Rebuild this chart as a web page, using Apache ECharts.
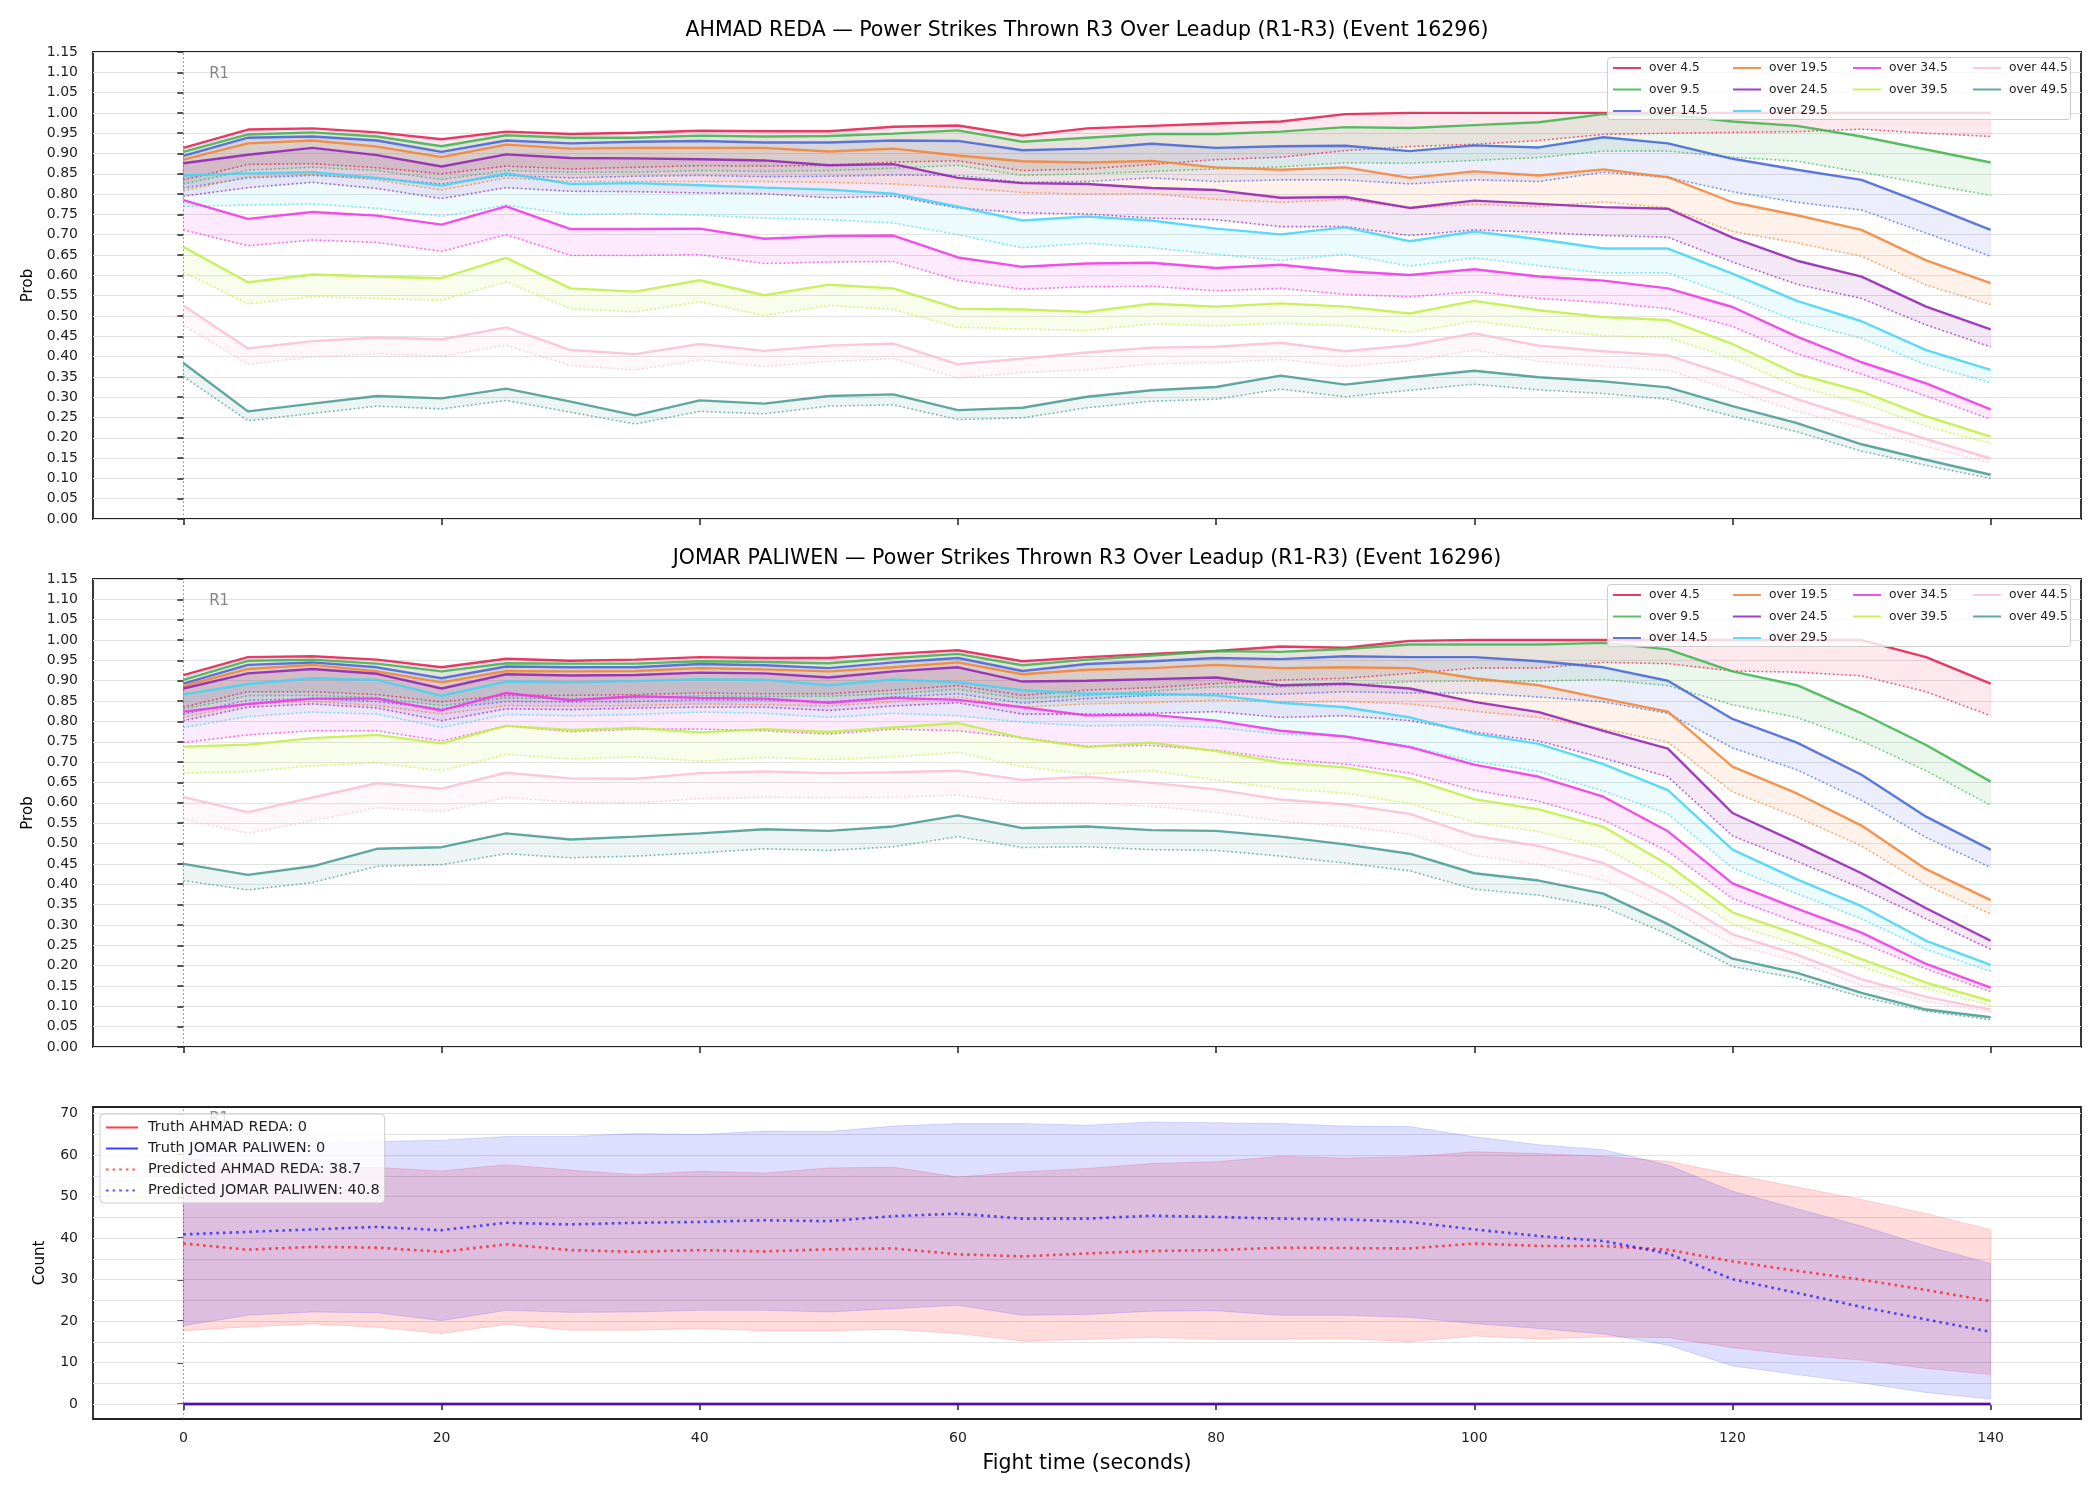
<!DOCTYPE html>
<html>
<head>
<meta charset="utf-8">
<title>Power Strikes Thrown R3 Over Leadup</title>
<script src="https://cdn.jsdelivr.net/npm/echarts@6/dist/echarts.min.js"></script>
<style>
  html, body { margin: 0; padding: 0; background: #ffffff; }
  #main { width: 2100px; height: 1500px; }
</style>
</head>
<body>
<div id="main"></div>
<script>
// x axis: fight time, one sample every 5 s
var fightTime = [0,5,10,15,20,25,30,35,40,45,50,55,60,65,70,75,80,85,90,95,100,105,110,115,120,125,130,135,140];
var xTicks = [0,20,40,60,80,100,120,140];
var countTicks = [0,10,20,30,40,50,60,70];
var countGrid = [0,5,10,15,20,25,30,35,40,45,50,55,60,65,70];

var thresholdNames = ['over 4.5','over 9.5','over 14.5','over 19.5','over 24.5','over 29.5','over 34.5','over 39.5','over 44.5','over 49.5'];
var thresholdColors = ['#e6194b','#3cb44b','#4363d8','#f58231','#911eb4','#42d4f4','#f032e6','#bfef45','#fabed4','#469990'];

// AHMAD REDA (solid line = upper, dotted = lower)
var reda45   = [0.914,0.959,0.962,0.952,0.935,0.954,0.948,0.951,0.956,0.955,0.955,0.966,0.969,0.944,0.962,0.968,0.974,0.979,0.997,1.0,1.0,1.0,1.0,1.0,1.0,1.0,1.0,1.0,1.0];
var reda45Lo = [0.835,0.873,0.875,0.865,0.850,0.869,0.862,0.866,0.870,0.869,0.871,0.879,0.882,0.858,0.862,0.873,0.885,0.891,0.907,0.917,0.923,0.932,0.947,0.950,0.952,0.954,0.960,0.950,0.942];
var reda95   = [0.904,0.947,0.952,0.942,0.918,0.945,0.939,0.939,0.944,0.942,0.943,0.949,0.957,0.929,0.939,0.948,0.948,0.954,0.965,0.963,0.970,0.977,0.997,0.996,0.979,0.968,0.942,0.910,0.878];
var reda95Lo = [0.825,0.859,0.866,0.858,0.836,0.858,0.854,0.854,0.858,0.856,0.858,0.864,0.871,0.846,0.850,0.856,0.862,0.867,0.877,0.876,0.883,0.890,0.906,0.906,0.891,0.881,0.854,0.825,0.797];
var reda145   = [0.894,0.939,0.942,0.932,0.904,0.932,0.925,0.929,0.931,0.927,0.927,0.932,0.931,0.908,0.912,0.924,0.914,0.918,0.919,0.906,0.920,0.915,0.940,0.925,0.887,0.860,0.835,0.775,0.712];
var reda145Lo = [0.815,0.840,0.846,0.839,0.825,0.846,0.840,0.844,0.846,0.843,0.844,0.847,0.846,0.829,0.831,0.840,0.831,0.835,0.835,0.825,0.835,0.831,0.854,0.841,0.806,0.780,0.761,0.704,0.647];
var reda195   = [0.885,0.925,0.932,0.917,0.891,0.922,0.912,0.914,0.914,0.914,0.905,0.912,0.895,0.881,0.878,0.882,0.866,0.860,0.866,0.840,0.856,0.846,0.861,0.842,0.780,0.748,0.712,0.637,0.581];
var reda195Lo = [0.808,0.843,0.848,0.835,0.810,0.840,0.831,0.831,0.831,0.831,0.829,0.825,0.816,0.804,0.800,0.801,0.787,0.780,0.787,0.765,0.775,0.769,0.781,0.766,0.708,0.680,0.647,0.576,0.528];
var reda245   = [0.876,0.897,0.914,0.896,0.868,0.898,0.889,0.888,0.886,0.883,0.871,0.874,0.840,0.827,0.825,0.815,0.810,0.791,0.793,0.766,0.784,0.776,0.768,0.764,0.693,0.636,0.597,0.523,0.467];
var reda245Lo = [0.795,0.816,0.829,0.814,0.789,0.816,0.807,0.806,0.803,0.801,0.791,0.795,0.766,0.754,0.751,0.741,0.737,0.720,0.720,0.698,0.712,0.706,0.698,0.694,0.633,0.578,0.543,0.478,0.424];
var reda295   = [0.846,0.851,0.854,0.840,0.821,0.851,0.825,0.827,0.822,0.816,0.811,0.801,0.769,0.735,0.745,0.735,0.715,0.701,0.718,0.684,0.708,0.689,0.666,0.666,0.604,0.537,0.487,0.416,0.367];
var reda295Lo = [0.770,0.773,0.776,0.765,0.745,0.773,0.750,0.752,0.748,0.741,0.737,0.729,0.700,0.668,0.679,0.668,0.652,0.637,0.652,0.623,0.643,0.624,0.606,0.606,0.549,0.487,0.445,0.380,0.336];
var reda345   = [0.785,0.739,0.756,0.747,0.725,0.770,0.714,0.714,0.715,0.690,0.697,0.698,0.644,0.621,0.629,0.631,0.618,0.626,0.610,0.601,0.615,0.597,0.587,0.568,0.522,0.449,0.386,0.334,0.270];
var reda345Lo = [0.712,0.673,0.687,0.681,0.659,0.700,0.649,0.649,0.651,0.629,0.633,0.634,0.588,0.566,0.572,0.573,0.562,0.568,0.553,0.547,0.560,0.543,0.533,0.518,0.474,0.407,0.357,0.303,0.246];
var reda395   = [0.670,0.583,0.602,0.597,0.593,0.643,0.568,0.560,0.588,0.551,0.577,0.568,0.518,0.516,0.510,0.530,0.523,0.531,0.523,0.506,0.537,0.514,0.497,0.490,0.431,0.357,0.314,0.253,0.203];
var reda395Lo = [0.608,0.530,0.548,0.543,0.539,0.584,0.518,0.510,0.535,0.501,0.526,0.516,0.472,0.468,0.464,0.481,0.476,0.482,0.476,0.460,0.487,0.468,0.451,0.447,0.395,0.326,0.286,0.228,0.186];
var reda445   = [0.526,0.420,0.438,0.447,0.442,0.472,0.416,0.406,0.431,0.414,0.427,0.432,0.381,0.395,0.410,0.422,0.424,0.434,0.413,0.428,0.457,0.427,0.413,0.403,0.351,0.295,0.245,0.197,0.149];
var reda445Lo = [0.478,0.381,0.399,0.407,0.401,0.428,0.378,0.367,0.392,0.376,0.388,0.395,0.347,0.361,0.367,0.382,0.385,0.393,0.376,0.389,0.416,0.388,0.376,0.366,0.317,0.265,0.224,0.179,0.138];
var reda495   = [0.384,0.265,0.284,0.303,0.297,0.321,0.289,0.255,0.292,0.284,0.303,0.307,0.268,0.274,0.301,0.317,0.325,0.353,0.331,0.349,0.365,0.349,0.339,0.324,0.278,0.236,0.184,0.146,0.109];
var reda495Lo = [0.351,0.242,0.260,0.278,0.271,0.292,0.263,0.234,0.265,0.259,0.278,0.281,0.245,0.249,0.274,0.290,0.295,0.320,0.301,0.317,0.332,0.318,0.309,0.295,0.253,0.215,0.167,0.132,0.100];

// JOMAR PALIWEN
var jomar45   = [0.914,0.958,0.960,0.952,0.933,0.954,0.949,0.952,0.958,0.956,0.956,0.966,0.975,0.948,0.958,0.966,0.973,0.984,0.981,0.998,1.0,1.0,1.0,1.0,1.0,1.0,1.0,0.958,0.893];
var jomar45Lo = [0.835,0.873,0.873,0.866,0.848,0.864,0.864,0.866,0.870,0.868,0.868,0.877,0.888,0.864,0.877,0.883,0.893,0.902,0.906,0.918,0.931,0.931,0.945,0.942,0.924,0.921,0.912,0.873,0.814];
var jomar95   = [0.902,0.949,0.952,0.942,0.923,0.943,0.942,0.942,0.948,0.946,0.943,0.956,0.966,0.938,0.952,0.962,0.973,0.971,0.978,0.989,0.989,0.989,0.993,0.977,0.923,0.889,0.820,0.742,0.652];
var jomar95Lo = [0.830,0.863,0.864,0.858,0.839,0.858,0.856,0.858,0.863,0.861,0.862,0.868,0.879,0.856,0.864,0.874,0.885,0.885,0.889,0.898,0.899,0.899,0.903,0.888,0.841,0.810,0.752,0.679,0.594];
var jomar145   = [0.893,0.939,0.945,0.933,0.906,0.935,0.933,0.933,0.941,0.938,0.931,0.945,0.956,0.924,0.941,0.948,0.956,0.953,0.960,0.958,0.958,0.948,0.933,0.900,0.806,0.748,0.669,0.566,0.485];
var jomar145Lo = [0.818,0.852,0.856,0.849,0.831,0.849,0.848,0.849,0.853,0.852,0.848,0.860,0.868,0.845,0.856,0.864,0.868,0.867,0.873,0.870,0.870,0.860,0.848,0.820,0.735,0.681,0.606,0.515,0.441];
var jomar195   = [0.887,0.929,0.939,0.923,0.896,0.924,0.923,0.924,0.931,0.928,0.923,0.933,0.945,0.916,0.927,0.931,0.939,0.931,0.933,0.931,0.906,0.889,0.856,0.824,0.689,0.623,0.544,0.437,0.361];
var jomar195Lo = [0.810,0.843,0.849,0.839,0.818,0.839,0.838,0.839,0.843,0.841,0.838,0.848,0.860,0.835,0.843,0.846,0.852,0.848,0.849,0.843,0.825,0.810,0.781,0.749,0.627,0.565,0.494,0.398,0.327];
var jomar245   = [0.881,0.918,0.929,0.917,0.881,0.916,0.913,0.914,0.920,0.918,0.908,0.923,0.933,0.898,0.900,0.904,0.908,0.889,0.893,0.881,0.848,0.823,0.777,0.733,0.575,0.502,0.427,0.341,0.261];
var jomar245Lo = [0.802,0.835,0.843,0.833,0.802,0.831,0.829,0.833,0.835,0.835,0.827,0.838,0.846,0.818,0.818,0.820,0.824,0.810,0.814,0.802,0.774,0.752,0.710,0.664,0.519,0.456,0.390,0.315,0.240];
var jomar295   = [0.866,0.892,0.906,0.902,0.863,0.898,0.896,0.899,0.904,0.902,0.889,0.903,0.896,0.877,0.868,0.868,0.864,0.846,0.835,0.810,0.770,0.745,0.695,0.631,0.485,0.412,0.346,0.261,0.202];
var jomar295Lo = [0.785,0.812,0.823,0.818,0.785,0.817,0.814,0.817,0.823,0.820,0.810,0.820,0.814,0.798,0.789,0.791,0.785,0.769,0.763,0.739,0.702,0.677,0.629,0.573,0.440,0.377,0.315,0.240,0.186];
var jomar345   = [0.824,0.843,0.856,0.856,0.827,0.870,0.852,0.862,0.858,0.856,0.846,0.858,0.853,0.835,0.815,0.816,0.802,0.777,0.763,0.737,0.694,0.664,0.615,0.530,0.402,0.340,0.281,0.204,0.146];
var jomar345Lo = [0.748,0.767,0.777,0.777,0.752,0.789,0.775,0.781,0.781,0.777,0.769,0.781,0.777,0.760,0.739,0.741,0.729,0.708,0.695,0.673,0.631,0.604,0.558,0.481,0.365,0.306,0.256,0.192,0.136];
var jomar395   = [0.738,0.743,0.759,0.767,0.746,0.789,0.779,0.784,0.773,0.781,0.774,0.785,0.796,0.759,0.737,0.748,0.727,0.699,0.687,0.660,0.609,0.584,0.541,0.448,0.331,0.277,0.216,0.158,0.113];
var jomar395Lo = [0.673,0.677,0.691,0.698,0.679,0.719,0.708,0.713,0.702,0.712,0.706,0.713,0.724,0.689,0.671,0.679,0.656,0.635,0.624,0.598,0.552,0.529,0.490,0.406,0.302,0.252,0.198,0.144,0.102];
var jomar445   = [0.614,0.577,0.613,0.648,0.635,0.674,0.660,0.659,0.673,0.677,0.673,0.675,0.679,0.656,0.664,0.649,0.633,0.608,0.596,0.573,0.519,0.494,0.452,0.373,0.277,0.227,0.166,0.123,0.092];
var jomar445Lo = [0.560,0.525,0.556,0.588,0.579,0.613,0.602,0.600,0.610,0.614,0.613,0.614,0.619,0.600,0.600,0.591,0.577,0.555,0.542,0.523,0.471,0.448,0.410,0.340,0.252,0.211,0.152,0.112,0.086];
var jomar495   = [0.450,0.423,0.444,0.487,0.491,0.525,0.510,0.517,0.525,0.535,0.531,0.542,0.569,0.538,0.542,0.533,0.531,0.517,0.498,0.475,0.427,0.409,0.377,0.302,0.217,0.182,0.133,0.092,0.073];
var jomar495Lo = [0.409,0.386,0.404,0.444,0.448,0.475,0.465,0.469,0.477,0.487,0.483,0.492,0.517,0.490,0.492,0.485,0.483,0.469,0.452,0.433,0.388,0.373,0.344,0.277,0.198,0.169,0.123,0.088,0.067];

// count panel
var truthReda   = [0,0,0,0,0,0,0,0,0,0,0,0,0,0,0,0,0,0,0,0,0,0,0,0,0,0,0,0,0];
var truthJomar  = [0,0,0,0,0,0,0,0,0,0,0,0,0,0,0,0,0,0,0,0,0,0,0,0,0,0,0,0,0];
var predReda    = [38.7,37.2,37.9,37.7,36.7,38.5,37.1,36.7,37.1,36.8,37.3,37.5,36.1,35.6,36.3,36.9,37.1,37.7,37.6,37.5,38.7,38.1,38.1,37.2,34.4,32.1,30.0,27.5,24.8];
var predJomar   = [40.9,41.5,42.1,42.7,41.9,43.7,43.3,43.7,43.9,44.3,44.1,45.3,45.9,44.7,44.7,45.4,45.1,44.7,44.5,43.9,42.1,40.5,39.3,36.3,30.1,26.8,23.4,20.4,17.4];
var redaBandHi  = [59.4,57.5,57.0,57.0,56.2,57.7,56.4,55.3,56.1,55.7,56.9,57.1,54.7,56.0,56.8,58.0,58.4,59.7,59.3,59.6,60.8,60.4,59.7,58.5,55.4,52.3,49.3,45.9,42.1];
var redaBandLo  = [17.7,18.6,19.3,18.5,17.0,19.2,17.8,17.8,18.2,17.7,17.7,18.0,17.0,15.2,15.6,16.1,15.6,15.6,15.8,15.0,16.4,15.7,16.2,16.0,13.6,11.8,10.6,8.6,7.1];
var jomarBandHi = [61.5,62.3,62.9,63.3,63.6,64.5,64.5,65.2,65.0,65.8,65.7,67.0,67.6,67.6,67.2,68.0,67.8,67.6,67.0,66.9,64.4,62.5,61.3,57.6,51.3,47.1,42.9,38.1,33.9];
var jomarBandLo = [18.9,21.4,22.2,22.0,20.1,22.6,22.1,22.2,22.6,22.6,22.2,23.0,23.8,21.4,21.6,22.4,22.5,21.4,21.4,20.9,19.4,18.2,16.9,14.2,9.2,7.1,5.1,2.8,1.2];

var redaHi  = [reda45, reda95, reda145, reda195, reda245, reda295, reda345, reda395, reda445, reda495];
var redaLo  = [reda45Lo, reda95Lo, reda145Lo, reda195Lo, reda245Lo, reda295Lo, reda345Lo, reda395Lo, reda445Lo, reda495Lo];
var jomarHi = [jomar45, jomar95, jomar145, jomar195, jomar245, jomar295, jomar345, jomar395, jomar445, jomar495];
var jomarLo = [jomar45Lo, jomar95Lo, jomar145Lo, jomar195Lo, jomar245Lo, jomar295Lo, jomar345Lo, jomar395Lo, jomar445Lo, jomar495Lo];

var FONT = 'DejaVu Sans';
var INK = '#222222';

function pairs(vals) {
	return fightTime.map(function(x, i) { return [x, vals[i]]; });
}

// filled polygon between lo and hi, drawn once from the first data item
function bandSeries(g, lo, hi, color, alpha) {
	return {
		type: 'custom', xAxisIndex: g, yAxisIndex: g, silent: true, z: 2,
		data: fightTime.map(function(x, i) { return [x, lo[i], hi[i]]; }),
		encode: { x: 0, y: [1, 2] },
		renderItem: function(params, api) {
			if (params.dataIndex !== 0) return null;
			var pts = [];
			for (var i = 0; i < fightTime.length; i++) pts.push(api.coord([fightTime[i], hi[i]]));
			for (var j = fightTime.length - 1; j >= 0; j--) pts.push(api.coord([fightTime[j], lo[j]]));
			return { type: 'polygon', shape: { points: pts },
				style: { fill: color, stroke: color, lineWidth: 1, opacity: alpha } };
		}
	};
}

function lineSeries(g, name, vals, color, width, opacity, dash) {
	return {
		type: 'line', name: name, xAxisIndex: g, yAxisIndex: g, data: pairs(vals),
		symbol: 'none', silent: true, z: 3,
		itemStyle: { color: color },
		lineStyle: { color: color, width: width, opacity: opacity, type: dash || 'solid', cap: 'butt' }
	};
}

// vertical dotted marker at round start + the "R1" label
function roundMarker(g, labelY) {
	return {
		type: 'scatter', xAxisIndex: g, yAxisIndex: g, silent: true, z: 1,
		data: [[2.0, labelY]], symbolSize: 0,
		label: { show: true, formatter: 'R1', position: 'right', distance: 0,
			fontSize: 15, color: '#666666', fontFamily: FONT },
		markLine: { symbol: 'none', silent: true, z: 1, label: { show: false },
			lineStyle: { color: '#555555', width: 1, type: [1.5, 2.5], opacity: 0.7 },
			data: [{ xAxis: 0 }] }
	};
}

var grids = [
	{ left: 93, right: 19, top: 52, height: 467 },
	{ left: 93, right: 19, top: 579, height: 468 },
	{ left: 93, right: 19, top: 1107, height: 312 }
].map(function(g) {
	g.show = true; g.borderColor = INK; g.borderWidth = 1.8;
	g.outerBoundsMode = 'none';
	return g;
});

var tickStyle = { show: true, length: 6, lineStyle: { color: INK, width: 1.5 } };

var xAxes = [0, 1, 2].map(function(g) {
	return {
		type: 'value', gridIndex: g, min: -7, max: 147,
		axisLine: { show: false },
		splitLine: { show: false },
		axisTick: { show: true, length: 6, lineStyle: { color: INK, width: 1.5 }, customValues: xTicks },
		axisLabel: g === 2
			? { show: true, customValues: xTicks, fontSize: 14, color: INK, margin: 12, fontFamily: FONT }
			: { show: false, customValues: xTicks },
		name: g === 2 ? 'Fight time (seconds)' : '',
		nameLocation: 'middle', nameGap: 34,
		nameTextStyle: { fontSize: 20.5, color: '#000', fontFamily: FONT }
	};
});

var probAxis = function(g) {
	return {
		type: 'value', gridIndex: g, min: 0, max: 1.15, interval: 0.05,
		axisLine: { show: false },
		axisTick: tickStyle,
		axisLabel: { fontSize: 14, color: INK, margin: 15, fontFamily: FONT,
			formatter: function(v) { return v.toFixed(2); } },
		splitLine: { show: true, lineStyle: { color: '#e2e2e2', width: 1 } },
		name: 'Prob', nameLocation: 'middle', nameGap: 57,
		nameTextStyle: { fontSize: 15, color: '#000', fontFamily: FONT }
	};
};

var yAxes = [probAxis(0), probAxis(1), {
	type: 'value', gridIndex: 2, min: -3.6, max: 71.6,
	axisLine: { show: false },
	axisTick: { show: true, length: 6, lineStyle: { color: INK, width: 1.5 }, customValues: countTicks },
	axisLabel: { customValues: countTicks, fontSize: 14, color: INK, margin: 15, fontFamily: FONT },
	splitLine: { show: false },
	name: 'Count', nameLocation: 'middle', nameGap: 45,
	nameTextStyle: { fontSize: 15, color: '#000', fontFamily: FONT }
}];

var series = [];

// probability panels
[[redaHi, redaLo], [jomarHi, jomarLo]].forEach(function(panel, g) {
	series.push(roundMarker(g, 1.096));
	for (var i = 0; i < thresholdNames.length; i++) {
		var c = thresholdColors[i];
		series.push(bandSeries(g, panel[1][i], panel[0][i], c, 0.1));
		series.push(lineSeries(g, thresholdNames[i], panel[0][i], c, 2.4, 0.85));
		series.push(lineSeries(g, thresholdNames[i] + ' (low)', panel[1][i], c, 1.6, 0.7, [1.6, 2.6]));
	}
});

// count panel
series.push(roundMarker(2, 68.8));
series.push({
	type: 'line', xAxisIndex: 2, yAxisIndex: 2, data: [], silent: true,
	markLine: { symbol: 'none', silent: true, z: 1, label: { show: false },
		lineStyle: { color: '#e2e2e2', width: 1, type: 'solid' },
		data: countGrid.map(function(v) { return { yAxis: v }; }) }
});
series.push(bandSeries(2, redaBandLo, redaBandHi, '#ff0000', 0.14));
series.push(bandSeries(2, jomarBandLo, jomarBandHi, '#0000ff', 0.13));
series.push(lineSeries(2, 'Truth AHMAD REDA: 0', truthReda, '#ff0000', 2.6, 0.75));
series.push(lineSeries(2, 'Truth JOMAR PALIWEN: 0', truthJomar, '#0000ff', 2.6, 0.75));
series.push(lineSeries(2, 'Predicted AHMAD REDA: 38.7', predReda, '#ff0000', 2.6, 0.65, [2.6, 4]));
series.push(lineSeries(2, 'Predicted JOMAR PALIWEN: 40.8', predJomar, '#0000ff', 2.6, 0.65, [2.6, 4]));

// legends: 4 columns per probability panel, like matplotlib ncol=4
// (itemStyle opacity 0 hides the marker that line legends add, only the line stays)
var legendCols = [[0, 1, 2], [3, 4, 5], [6, 7], [8, 9]];
var legendColX = [1612, 1732, 1852, 1972];
var legends = [];
[0, 1].forEach(function(p) {
	legendCols.forEach(function(col, c) {
		legends.push({
			orient: 'vertical', left: legendColX[c], top: 62 + p * 527, padding: 0,
			itemWidth: 28, itemHeight: 14, itemGap: 9.5, selectedMode: false, z: 20,
			itemStyle: { opacity: 0 },
			textStyle: { fontSize: 12.3, color: INK, fontFamily: FONT, padding: [0, 0, 0, 3] },
			data: col.map(function(i) { return thresholdNames[i]; })
		});
	});
});
legends.push({
	orient: 'vertical', left: 100, top: 1114, padding: [6, 5, 5, 5],
	itemWidth: 32, itemHeight: 14, itemGap: 6, selectedMode: false, z: 20,
	itemStyle: { opacity: 0 },
	backgroundColor: 'rgba(255,255,255,0.8)', borderColor: '#cccccc', borderWidth: 1, borderRadius: 4,
	textStyle: { fontSize: 14.5, color: INK, fontFamily: FONT, padding: [0, 0, 0, 5] },
	data: ['Truth AHMAD REDA: 0', 'Truth JOMAR PALIWEN: 0', 'Predicted AHMAD REDA: 38.7', 'Predicted JOMAR PALIWEN: 40.8']
});

var titles = [
	'AHMAD REDA \u2014 Power Strikes Thrown R3 Over Leadup (R1-R3) (Event 16296)',
	'JOMAR PALIWEN \u2014 Power Strikes Thrown R3 Over Leadup (R1-R3) (Event 16296)'
];

var graphics = [];
titles.forEach(function(t, p) {
	graphics.push({ type: 'text', x: 1087, y: 31 + p * 528, z: 30,
		style: { text: t, fontSize: 20.5, fontFamily: FONT, fill: '#000', align: 'center', verticalAlign: 'middle' } });
	// legend frame
	graphics.push({ type: 'rect', z: 10, shape: { x: 1607.5, y: 57.5 + p * 527, width: 463, height: 62, r: 3 },
		style: { fill: 'rgba(255,255,255,0.8)', stroke: '#cccccc', lineWidth: 1 } });
});

var myChart = echarts.init(document.getElementById('main'), null, { renderer: 'canvas' });
myChart.setOption({
	animation: false,
	backgroundColor: '#ffffff',
	textStyle: { fontFamily: FONT },
	grid: grids,
	xAxis: xAxes,
	yAxis: yAxes,
	legend: legends,
	graphic: graphics,
	series: series
});
</script>
</body>
</html>
